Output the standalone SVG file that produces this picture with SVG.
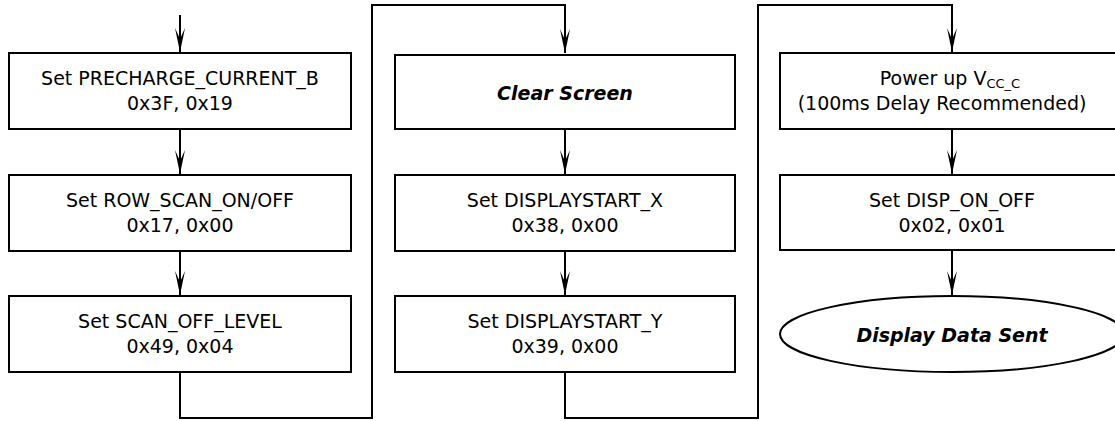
<svg xmlns="http://www.w3.org/2000/svg" width="1115" height="421" viewBox="0 0 1115 421">
<style>
.box{fill:#fff;stroke:#000;stroke-width:2}
.t{font-family:"DejaVu Sans",Verdana,sans-serif;font-size:19px;fill:#000;text-anchor:middle}
.sub{font-size:13px}
.bi{font-family:"DejaVu Sans",sans-serif;font-size:19px;font-weight:bold;font-style:italic;fill:#000;text-anchor:middle}
.c{fill:none;stroke:#000;stroke-width:2}
</style>
<defs>
<marker id="ah" markerUnits="userSpaceOnUse" markerWidth="26" markerHeight="12" viewBox="-25 -6 26 12" refX="0" refY="0" orient="auto">
<path d="M0,0 L-24,-5 L-13,0 L-24,5 Z" fill="#000"/>
</marker>
</defs>
<g id="connectors">
<line class="c" x1="180" y1="15" x2="180" y2="52" marker-end="url(#ah)"/>
<line class="c" x1="180" y1="129" x2="180" y2="174" marker-end="url(#ah)"/>
<line class="c" x1="180" y1="251" x2="180" y2="295" marker-end="url(#ah)"/>
<polyline class="c" points="180,372 180,418 372,418 372,5 565,5 565,53" marker-end="url(#ah)"/>
<line class="c" x1="565" y1="129" x2="565" y2="174" marker-end="url(#ah)"/>
<line class="c" x1="565" y1="251" x2="565" y2="295" marker-end="url(#ah)"/>
<polyline class="c" points="565,372 565,418 758,418 758,5 952,5 952,52" marker-end="url(#ah)"/>
<line class="c" x1="952" y1="129" x2="952" y2="174" marker-end="url(#ah)"/>
<line class="c" x1="952" y1="250" x2="952" y2="295" marker-end="url(#ah)"/>
</g>
<g id="n1"><rect class="box" x="9" y="53" width="342" height="76"/><text class="t" x="180" y="85">Set PRECHARGE_CURRENT_B</text><text class="t" x="180" y="110">0x3F, 0x19</text></g>
<g id="n2"><rect class="box" x="9" y="175" width="342" height="76"/><text class="t" x="180" y="207">Set ROW_SCAN_ON/OFF</text><text class="t" x="180" y="232">0x17, 0x00</text></g>
<g id="n3"><rect class="box" x="9" y="296" width="342" height="76"/><text class="t" x="180" y="328">Set SCAN_OFF_LEVEL</text><text class="t" x="180" y="353">0x49, 0x04</text></g>
<g id="n4"><rect class="box" x="395" y="55" width="340" height="74"/><text class="bi" x="565" y="100">Clear Screen</text></g>
<g id="n5"><rect class="box" x="395" y="175" width="340" height="76"/><text class="t" x="565" y="207">Set DISPLAYSTART_X</text><text class="t" x="565" y="232">0x38, 0x00</text></g>
<g id="n6"><rect class="box" x="395" y="296" width="340" height="76"/><text class="t" x="565" y="328">Set DISPLAYSTART_Y</text><text class="t" x="565" y="353">0x39, 0x00</text></g>
<g id="n7"><rect class="box" x="780" y="53" width="344" height="76"/><text class="t" x="950" y="85">Power up V<tspan class="sub" dy="3">CC_C</tspan></text><text class="t" x="942" y="110">(100ms Delay Recommended)</text></g>
<g id="n8"><rect class="box" x="780" y="175" width="344" height="75"/><text class="t" x="952" y="207">Set DISP_ON_OFF</text><text class="t" x="952" y="232">0x02, 0x01</text></g>
<g id="n9"><ellipse class="box" cx="952" cy="334" rx="172" ry="38"/><text class="bi" x="952" y="342">Display Data Sent</text></g>
</svg>
